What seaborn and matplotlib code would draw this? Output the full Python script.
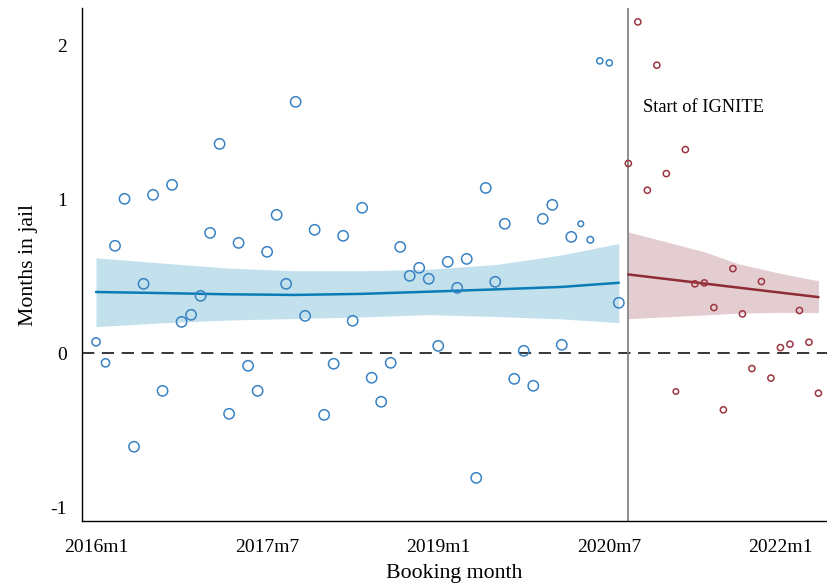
import numpy as np
import pandas as pd
import matplotlib
matplotlib.use("Agg")
import matplotlib.pyplot as plt
import seaborn as sns

# ---- data (month index 0 = 2016m1) ----
pre_months = list(range(0, 56))
pre_values = [0.073, -0.063, 0.697, 1.002, -0.608, 0.450, 1.028, -0.245, 1.093, 0.203,
              0.249, 0.372, 0.781, 1.359, -0.394, 0.716, -0.082, -0.245, 0.658, 0.898,
              0.450, 1.632, 0.242, 0.801, -0.401, -0.069, 0.762, 0.210, 0.944, -0.160,
              -0.316, -0.063, 0.690, 0.502, 0.554, 0.483, 0.047, 0.593, 0.424, 0.612,
              -0.810, 1.073, 0.463, 0.840, -0.167, 0.015, -0.212, 0.872, 0.963, 0.054,
              0.755, 0.840, 0.736, 1.898, 1.885, 0.327]
pre_weight = [60, 60] + [95] * 49 + [28, 38, 34, 34, 95]

post_months = list(range(56, 77))
post_values = [1.232, 2.151, 1.058, 1.870, 1.166, -0.249, 1.322, 0.450, 0.456, 0.296,
               -0.368, 0.549, 0.255, -0.100, 0.465, -0.162, 0.036, 0.058, 0.277, 0.071,
               -0.260]
post_weight = [36, 36, 36, 36, 36, 28, 36, 36, 36, 36, 36, 36, 36, 36, 36, 36, 36, 36, 36, 36, 36]

# fitted trends
pre_fit_months = [0, 7, 14, 21, 28, 35, 42, 49, 55]
pre_fit = [0.397, 0.390, 0.382, 0.378, 0.385, 0.399, 0.414, 0.430, 0.457]
pre_fit_lo = [0.172, 0.197, 0.215, 0.225, 0.235, 0.250, 0.238, 0.222, 0.198]
pre_fit_hi = [0.619, 0.585, 0.552, 0.535, 0.535, 0.545, 0.575, 0.638, 0.712]

post_fit_months = [56, 64, 67.5, 72, 76]
post_fit = [0.511, 0.452, 0.426, 0.393, 0.364]
post_fit_lo = [0.224, 0.248, 0.259, 0.265, 0.263]
post_fit_hi = [0.787, 0.658, 0.582, 0.518, 0.470]

tick_months = [0, 18, 36, 54, 72]
tick_labels = ["2016m1", "2017m7", "2019m1", "2020m7", "2022m1"]
ignite_month = 56

# ---- style ----
sns.set_theme(style="white")
plt.rcParams["font.family"] = ["Liberation Serif", "DejaVu Serif"]
plt.rcParams["text.color"] = "black"
plt.rcParams["axes.labelcolor"] = "black"
plt.rcParams["xtick.color"] = "black"
plt.rcParams["ytick.color"] = "black"

BLUE = "#3a82c4"
BLUE_LINE = "#0a7db8"
BLUE_BAND = "#c3e1ec"
RED = "#9b3540"
RED_LINE = "#8e2b35"
RED_BAND = "#e3cdd1"

fig = plt.figure(figsize=(8.27, 5.88), dpi=100)
ax = fig.add_axes([0.0992, 0.114, 0.9008, 0.872])

pre_df = pd.DataFrame({"month": pre_months, "value": pre_values, "n": pre_weight})
post_df = pd.DataFrame({"month": post_months, "value": post_values, "n": post_weight})

ax.fill_between(pre_fit_months, pre_fit_lo, pre_fit_hi, color=BLUE_BAND, lw=0, zorder=1)
ax.fill_between(post_fit_months, post_fit_lo, post_fit_hi, color=RED_BAND, lw=0, zorder=1)
sns.lineplot(x=pre_fit_months, y=pre_fit, ax=ax, color=BLUE_LINE, lw=1.8, zorder=2)
sns.lineplot(x=post_fit_months, y=post_fit, ax=ax, color=RED_LINE, lw=1.8, zorder=2)

sns.scatterplot(data=pre_df, x="month", y="value", size="n", sizes=(0, 58),
                size_norm=(0, 100), facecolor="none", edgecolor=BLUE,
                linewidth=1.1, legend=False, ax=ax, zorder=3)
sns.scatterplot(data=post_df, x="month", y="value", size="n", sizes=(0, 55),
                size_norm=(0, 100), facecolor="none", edgecolor=RED,
                linewidth=1.1, legend=False, ax=ax, zorder=3)

ax.axhline(0, color="black", lw=1.1, ls=(0, (8, 5)), zorder=1.5)
ax.axvline(ignite_month, color="#7a7a7a", lw=1.2, zorder=1.5)
ax.text(57.5, 1.594, "Start of IGNITE", fontsize=13.2, va="center", ha="left")

ax.set_xlim(-1.47, 76.9)
ax.set_ylim(-1.09, 2.24)
ax.set_xticks(tick_months)
ax.set_xticklabels(tick_labels)
ax.set_yticks([-1, 0, 1, 2])
ax.set_yticklabels(["-1", "0", "1", "2"])
ax.tick_params(axis="x", length=0, labelsize=14, pad=13)
ax.tick_params(axis="y", length=0, labelsize=14, pad=11)
ax.set_xlabel("Booking month", fontsize=15.7, labelpad=6)
ax.set_ylabel("Months in jail", fontsize=15.7, labelpad=9)

for s in ["top", "right"]:
    ax.spines[s].set_visible(False)
for s in ["left", "bottom"]:
    ax.spines[s].set_color("black")
    ax.spines[s].set_linewidth(1.0)

fig.savefig("out.png", dpi=100)
